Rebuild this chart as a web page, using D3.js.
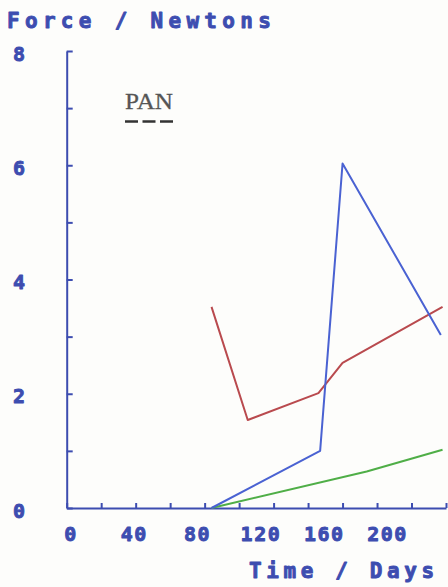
<!DOCTYPE html>
<html>
<head>
<meta charset="utf-8">
<script src="https://cdn.jsdelivr.net/npm/d3@7/dist/d3.min.js"></script>
<style>
  html, body { margin: 0; padding: 0; background: #fdfdfb; }
  svg { display: block; }
</style>
</head>
<body>
<script>
// ---- data ----
const xTickValues = [0, 20, 40, 60, 80, 100, 120, 140, 160, 180, 200, 220];
const xLabelValues = [0, 40, 80, 120, 160, 200];
const yTickValues = [0, 1, 2, 3, 4, 5, 6, 7, 8];
const yLabelValues = [0, 2, 4, 6, 8];

const blueDays   = [84, 147, 160, 217];
const blueForce  = [0, 1.0, 6.03, 3.03];
const redDays    = [84, 105, 146, 160, 218];
const redForce   = [3.52, 1.54, 2.01, 2.54, 3.52];
const greenDays  = [84, 174, 218];
const greenForce = [0, 0.64, 1.02];

const yTitle = "Force / Newtons";
const xTitle = "Time / Days";
const legendLabel = "PAN";

// ---- drawing ----
const W = 448, H = 587;
const inkBlue = "#3d4db0";
const svg = d3.select("body").append("svg").attr("width", W).attr("height", H);

const x = d3.scaleLinear().domain([0, 220]).range([66.7, 446]);
const y = d3.scaleLinear().domain([0, 8]).range([508, 51]);
// plotter printed the x labels as one fixed-pitch string, slightly compressed
const xLab = d3.scaleLinear().domain([0, 200]).range([70.5, 387]);

const fontPlot = "'DejaVu Sans Mono', monospace";

function plotText(sel, size) {
  sel.attr("font-family", fontPlot).attr("font-weight", "bold").attr("font-size", size)
    .attr("fill", inkBlue).attr("stroke", inkBlue).attr("stroke-width", 0.9)
    .attr("stroke-linejoin", "round");
  return sel;
}

// x axis
const gx = svg.append("g").attr("transform", `translate(0,${y(0)})`)
  .call(d3.axisBottom(x).tickValues(xTickValues).tickSizeInner(-5).tickSizeOuter(0).tickFormat(""));
gx.selectAll("path, line").attr("stroke", inkBlue).attr("stroke-width", 2);

// y axis
const gy = svg.append("g").attr("transform", `translate(${x(0)},0)`)
  .call(d3.axisLeft(y).tickValues(yTickValues).tickSizeInner(-6).tickSizeOuter(0).tickFormat(""));
gy.selectAll("path, line").attr("stroke", inkBlue).attr("stroke-width", 2);

// x labels
const gxl = svg.append("g").attr("transform", `translate(0,${y(0) + 27})`)
  .call(d3.axisBottom(xLab).tickValues(xLabelValues).tickSize(0).tickFormat(d3.format("d")));
gxl.select(".domain").remove();
plotText(gxl.selectAll("text"), 20)
  .attr("letter-spacing", 1.5).attr("dy", 0).attr("y", 0)
  .attr("dominant-baseline", "middle");

// y labels
const gyl = svg.append("g").attr("transform", `translate(19,3.5)`)
  .call(d3.axisLeft(y).tickValues(yLabelValues).tickSize(0).tickFormat(d3.format("d")));
gyl.select(".domain").remove();
plotText(gyl.selectAll("text"), 20)
  .attr("x", 0).attr("dy", 0).attr("text-anchor", "middle")
  .attr("dominant-baseline", "middle");

// titles
plotText(svg.append("text").text(yTitle), 21)
  .attr("x", 7).attr("y", 28)
  .attr("letter-spacing", 5.3);

plotText(svg.append("text").text(xTitle), 21)
  .attr("x", 249).attr("y", 578)
  .attr("letter-spacing", 4.6);

// legend
svg.append("text").text(legendLabel)
  .attr("x", 125).attr("y", 109)
  .attr("font-family", "'Liberation Serif', 'DejaVu Serif', serif").attr("font-size", 24)
  .attr("textLength", 48).attr("lengthAdjust", "spacingAndGlyphs")
  .attr("fill", "#555").attr("stroke", "#555").attr("stroke-width", 0.3);
svg.append("line")
  .attr("x1", 125).attr("x2", 173).attr("y1", 121.5).attr("y2", 121.5)
  .attr("stroke", "#333").attr("stroke-width", 2.5).attr("stroke-dasharray", "13,4.5");

// series
const line = d3.line().x(d => x(d[0])).y(d => y(d[1]));
const series = [
  { days: redDays, force: redForce, color: "#b94a4e" },
  { days: greenDays, force: greenForce, color: "#4fae47" },
  { days: blueDays, force: blueForce, color: "#4a62d2" }
];
series.forEach(s => {
  svg.append("path")
    .datum(s.days.map((d, i) => [d, s.force[i]]))
    .attr("d", line)
    .attr("fill", "none")
    .attr("stroke", s.color)
    .attr("stroke-width", 2)
    .attr("stroke-linejoin", "round");
});
</script>
</body>
</html>
